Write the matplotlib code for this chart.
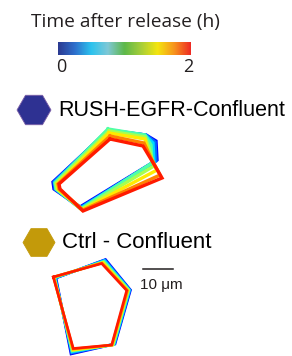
import numpy as np
import matplotlib.pyplot as plt
from matplotlib.colors import LinearSegmentedColormap
from matplotlib.patches import RegularPolygon

# colour bar of the legend (time after release, h)
bar_colors = ['#2B3A91', '#2E6FCC', '#2CC3EE', '#7FC8D6', '#5DB84A',
              '#A6CE39', '#F4E50F', '#F7941D', '#EE2A24']
bar_ticks = ['0', '2']

groups = ['RUSH-EGFR-Confluent', 'Ctrl - Confluent']
group_colors = ['#2E3192', '#C39A0A']

# traced cell outlines (pixel coords), first = 0 h, last = 2 h
rush_outlines = [
    [(108, 131), (146, 135), (156, 141), (157, 160), (80, 207), (54, 189), (53, 182)],
    [(108, 130), (146, 135), (155, 142), (156, 161), (80, 208), (55, 189), (54, 182)],
    [(108, 130), (145, 135), (153, 143), (154, 162), (81, 208), (56, 189), (55, 182)],
    [(108, 129), (145, 135), (151, 145), (152, 163), (81, 209), (56, 189), (55, 183)],
    [(109, 131), (145, 137), (149, 148), (154, 166), (82, 209), (57, 189), (56, 183)],
    [(109, 133), (145, 139), (148, 152), (157, 170), (82, 210), (58, 189), (57, 184)],
    [(110, 136), (144, 143), (152, 160), (160, 175), (83, 210), (59, 189), (58, 184)],
    [(110, 139), (143, 146), (158, 171), (162, 178), (83, 211), (60, 189), (59, 184)],
]
ctrl_outlines = [
    [(56, 278), (105.5, 259.5), (130.5, 290), (115, 344), (71, 354)],
    [(55.5, 278), (105, 260), (130, 290), (114.5, 344), (71.5, 353)],
    [(55, 278), (104.5, 260.5), (129.5, 290), (114, 344.5), (72, 352)],
    [(54.5, 277.5), (104, 261.5), (129, 290), (113.5, 344.5), (72, 351)],
    [(54, 277.5), (103.5, 262), (128.5, 290), (113, 345), (72.5, 350.5)],
    [(54, 277), (103, 262.5), (128, 290.5), (112.5, 345), (73, 350)],
    [(53.5, 277), (102, 263), (127.5, 290.5), (112, 345), (73, 349)],
    [(53.3, 277), (101.7, 263.5), (126.7, 290.5), (111.7, 345), (73.3, 348.5)],
]

scale_label = '10 \u03bcm'

fig = plt.figure(figsize=(2.92, 3.56), dpi=100)
ax = fig.add_axes([0, 0, 1, 1])
ax.set_xlim(0, 292)
ax.set_ylim(356, 0)
ax.axis('off')

# legend title and colour bar
ax.text(125, 22, 'Time after release (h)', fontsize=13.8, family='Open Sans',
        ha='center', va='center', color='#231F20')
cmap = LinearSegmentedColormap.from_list('t', bar_colors)
ax.imshow(np.linspace(0, 1, 256)[None, :], cmap=cmap, aspect='auto',
          extent=(58, 191, 55, 42))
ax.text(61, 67, bar_ticks[0], fontsize=13, family='Open Sans',
        ha='center', va='center', color='#231F20')
ax.text(188, 67, bar_ticks[1], fontsize=13, family='Open Sans',
        ha='center', va='center', color='#231F20')

# group markers and names
for (cx, cy, r), name, c in zip([(34, 110, 17), (39, 242.5, 16)], groups, group_colors):
    ax.add_patch(RegularPolygon((cx, cy), 6, radius=r, orientation=np.pi / 6,
                                facecolor=c, edgecolor='#7B5EA7' if c == '#2E3192' else c,
                                lw=0.6))
ax.text(58, 110, groups[0], fontsize=15.5, family='Liberation Sans',
        ha='left', va='center', color='black')
ax.text(61.5, 243, groups[1], fontsize=16, family='Liberation Sans',
        ha='left', va='center', color='black')

# outlines over time
jet = plt.get_cmap('jet')
for outlines, lw in ((rush_outlines, 2.4), (ctrl_outlines, 1.9)):
    n = len(outlines)
    for i, pts in enumerate(outlines):
        xy = np.array(pts + [pts[0]])
        ax.plot(xy[:, 0], xy[:, 1], color=jet(0.12 + 0.76 * i / (n - 1)),
                lw=lw, solid_joinstyle='miter')

# scale bar
ax.plot([143, 173], [269, 269], color='#231F20', lw=1.1)
ax.text(161, 285, scale_label, fontsize=11, family='Liberation Sans',
        ha='center', va='center', color='#231F20')

fig.savefig('out.png', dpi=100)
